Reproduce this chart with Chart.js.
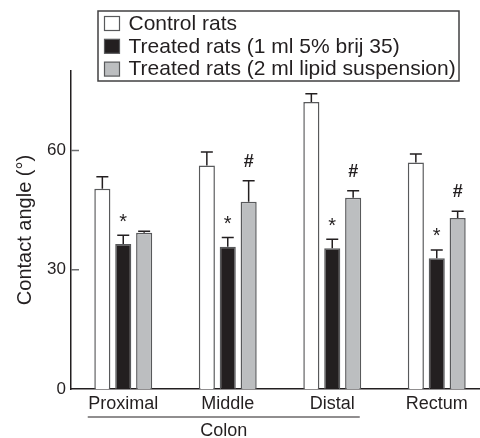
<!DOCTYPE html>
<html>
<head>
<meta charset="utf-8">
<script src="https://cdn.jsdelivr.net/npm/chart.js@4/dist/chart.umd.min.js"></script>
<style>
	body { margin: 0; overflow: hidden; background: #fff; }
	canvas { display: block; }
</style>
</head>
<body>
<canvas id="chart" width="489" height="438"></canvas>
<script>
const categories = ["Proximal", "Middle", "Distal", "Rectum"];
const groupLabel = "Colon";
const groupedCount = 3; // first three categories belong to the colon

const seriesLabels = [
	"Control rats",
	"Treated rats (1 ml 5% brij 35)",
	"Treated rats (2 ml lipid suspension)"
];
const controlMeans = [50.4, 56.2, 72.2, 57.0];
const controlErr = [3.0, 3.4, 2.1, 2.1];
const brijMeans = [36.5, 35.8, 35.4, 32.9];
const brijErr = [2.2, 2.3, 2.3, 2.1];
const lipidMeans = [39.3, 47.1, 48.1, 43.0];
const lipidErr = [0.4, 5.3, 1.8, 1.7];
const brijMarks = ["*", "*", "*", "*"];
const lipidMarks = ["", "#", "#", "#"];

const yTicks = [0, 30, 60];
const yMax = 80;
const yTitle = "Contact angle (°)";

const ink = "#231f20";
const fills = ["#ffffff", "#231f20", "#bcbec0"];
const edge = "#58595b";

const errors = [controlErr, brijErr, lipidErr];
const marks = [null, brijMarks, lipidMarks];

// whiskers (upper only) + significance marks
const errorBars = {
	id: "errorBars",
	afterDatasetsDraw(chart) {
		const ctx = chart.ctx;
		const y = chart.scales.y;
		ctx.save();
		chart.data.datasets.forEach((ds, di) => {
			chart.getDatasetMeta(di).data.forEach((bar, i) => {
				let top = y.getPixelForValue(ds.data[i] + errors[di][i]);
				ctx.strokeStyle = ink;
				ctx.lineWidth = 1.5;
				ctx.beginPath();
				ctx.moveTo(bar.x, bar.y);
				ctx.lineTo(bar.x, top);
				ctx.moveTo(bar.x - 6, top);
				ctx.lineTo(bar.x + 6, top);
				ctx.stroke();
				let m = marks[di] ? marks[di][i] : "";
				if (m) {
					ctx.fillStyle = ink;
					ctx.textAlign = "center";
					ctx.textBaseline = "middle";
					if (m === "#") {
						ctx.font = "bold 18px 'Liberation Sans', Arial, sans-serif";
						ctx.fillText(m, bar.x, top - 19);
					} else {
						ctx.font = "20px 'Liberation Sans', Arial, sans-serif";
						ctx.fillText(m, bar.x, top - 13);
					}
				}
			});
		});
		ctx.restore();
	}
};

// inward tick marks, colon bracket, boxed legend
const extras = {
	id: "extras",
	afterDraw(chart) {
		const ctx = chart.ctx;
		const x = chart.scales.x;
		const y = chart.scales.y;
		const area = chart.chartArea;
		ctx.save();
		ctx.strokeStyle = "#6d6e71";
		ctx.lineWidth = 1.5;
		yTicks.forEach(v => {
			if (v === 0) return;
			let py = y.getPixelForValue(v);
			ctx.beginPath();
			ctx.moveTo(area.left, py);
			ctx.lineTo(area.left + 8, py);
			ctx.stroke();
		});

		// colon underline
		ctx.font = "18px 'Liberation Sans', Arial, sans-serif";
		let w0 = ctx.measureText(categories[0]).width;
		let w2 = ctx.measureText(categories[groupedCount - 1]).width;
		let x0 = x.getPixelForValue(0) - w0 / 2 - 0.5;
		let x1 = x.getPixelForValue(groupedCount - 1) + w2 / 2 + 5;
		ctx.strokeStyle = ink;
		ctx.lineWidth = 1.2;
		ctx.beginPath();
		ctx.moveTo(x0, 417);
		ctx.lineTo(x1, 417);
		ctx.stroke();
		ctx.fillStyle = ink;
		ctx.textAlign = "center";
		ctx.textBaseline = "middle";
		ctx.fillText(groupLabel, (x0 + x1) / 2, 431);

		// legend
		ctx.strokeStyle = "#414042";
		ctx.lineWidth = 1.5;
		ctx.strokeRect(98, 11, 361, 70);
		ctx.font = "21px 'Liberation Sans', Arial, sans-serif";
		ctx.textAlign = "left";
		chart.data.datasets.forEach((ds, i) => {
			let cy = 23.5 + i * 22.8;
			ctx.fillStyle = ds.backgroundColor;
			ctx.fillRect(104.5, cy - 7, 15, 14);
			ctx.strokeStyle = edge;
			ctx.lineWidth = 1.2;
			ctx.strokeRect(104.5, cy - 7, 15, 14);
			ctx.fillStyle = ink;
			ctx.fillText(ds.label, 128.5, cy + 0.5);
		});
		ctx.restore();
	}
};

let ctx = document.getElementById("chart").getContext("2d");
window.chart = new Chart(ctx, {
	type: "bar",
	data: {
		labels: categories,
		datasets: [controlMeans, brijMeans, lipidMeans].map((d, i) => ({
			label: seriesLabels[i],
			data: d,
			backgroundColor: fills[i],
			borderColor: edge,
			borderWidth: 1.5,
			categoryPercentage: 0.6,
			barPercentage: 0.77
		}))
	},
	options: {
		responsive: false,
		animation: false,
		layout: { padding: { top: 71, right: 0, left: 0, bottom: 0 } },
		plugins: {
			legend: { display: false },
			tooltip: { enabled: false }
		},
		scales: {
			x: {
				grid: { display: false, drawTicks: false },
				border: { display: true, color: ink, width: 1.5 },
				ticks: {
					color: ink,
					padding: 4,
					font: { family: "'Liberation Sans', Arial, sans-serif", size: 18 }
				},
				afterFit(scale) { scale.height = 49; }
			},
			y: {
				min: 0,
				max: yMax,
				grid: { display: false, drawTicks: false },
				border: { display: true, color: ink, width: 1.5 },
				ticks: {
					color: ink,
					padding: 5,
					font: { family: "'Liberation Sans', Arial, sans-serif", size: 17 }
				},
				afterBuildTicks(scale) {
					scale.ticks = yTicks.map(v => ({ value: v }));
				},
				afterFit(scale) { scale.width = 71; },
				title: {
					display: true,
					text: yTitle,
					color: ink,
					padding: { top: 13, bottom: 0 },
					font: { family: "'Liberation Sans', Arial, sans-serif", size: 20 }
				}
			}
		}
	},
	plugins: [errorBars, extras]
});
</script>
</body>
</html>
